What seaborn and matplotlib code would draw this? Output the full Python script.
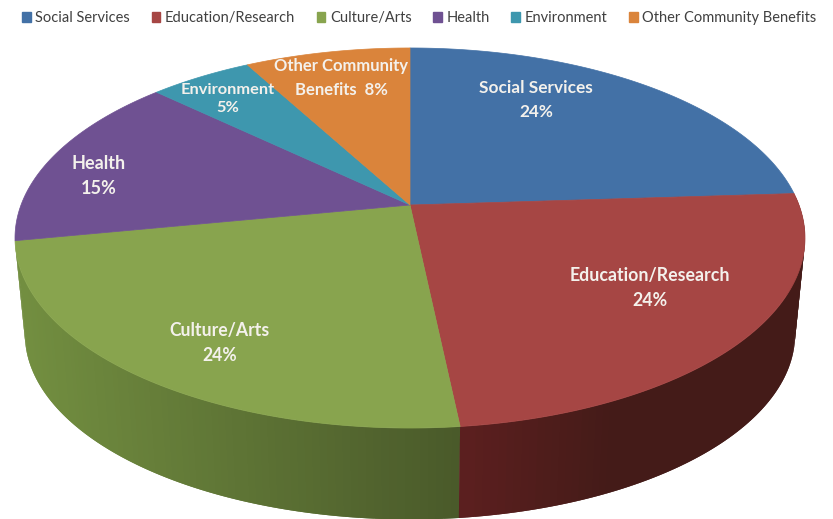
import numpy as np
import matplotlib
matplotlib.use('Agg')
import matplotlib.pyplot as plt
from matplotlib.patches import Polygon
from matplotlib.colors import to_rgb
import seaborn as sns

# data
categories = ['Social Services', 'Education/Research', 'Culture/Arts',
              'Health', 'Environment', 'Other Community Benefits']
shares = [24, 24.3, 23.7, 15, 5, 8]
slice_colors = ['#4371A6', '#A64644', '#88A44E', '#6F5192', '#3E97AE', '#DA843B']
slice_labels = ['Social Services\n24%', 'Education/Research\n24%', 'Culture/Arts\n24%',
                'Health\n15%', 'Environment\n5%', 'Other Community\nBenefits  8%']

sns.set_theme(style='white')
plt.rcParams['font.family'] = ['Lato', 'DejaVu Sans']
palette = sns.color_palette(slice_colors)


# tilt of the pie: unit circle -> picture pixels
def top_face(theta):
    u, v = np.cos(np.radians(theta)), np.sin(np.radians(theta))
    w = 1 + 0.1737 * v
    return 410 + 389 * u / w, 205 - 184.3 * v / w


def bottom_face(theta):
    x, y = top_face(theta)
    return 410 + 0.975 * (x - 410), 205 + 97 + 0.975 * (y - 205)


def side_color(name, x):
    # side walls get darker toward the middle, the red one stays dark
    if name == 'Culture/Arts':
        t = np.clip((x - 25) / 435, 0, 1)
        return np.array(to_rgb('#728E40')) * (1 - t) + np.array(to_rgb('#4A5A2A')) * t
    t = np.clip((x - 460) / 150, 0, 1)
    return np.array(to_rgb('#5C1F1F')) * (1 - t) + np.array(to_rgb('#441B18')) * t


fig, ax = plt.subplots(figsize=(8.33, 5.19), dpi=100)
ax.set_position([0, 0, 1, 1])

wedges, _ = ax.pie(shares, colors=palette, startangle=90, counterclock=False)
angles = [(w.theta1, w.theta2) for w in wedges]
for w in wedges:
    w.set_visible(False)

ax.set_aspect('auto')
ax.set_xlim(0, 833)
ax.set_ylim(519, 0)
ax.axis('off')

# side wall first, the two front slices only
# each strip runs under the next one so no seams show
for i in [2, 1]:
    t1, t2 = angles[i]
    edges = np.linspace(t1, t2, 90)
    step = edges[1] - edges[0]
    if i == 1:
        edges = edges[::-1]
        step = -step
    for a in edges[:-1]:
        b = a + step
        c = b + step if b + step <= t2 and b + step >= t1 else b
        xa, ya = top_face(a)
        xb, yb = top_face(c)
        xc, yc = bottom_face(c)
        xd, yd = bottom_face(a)
        col = side_color(categories[i], (xa + xb) / 2)
        ax.add_patch(Polygon([(xa, ya), (xb, yb), (xc, yc), (xd, yd)], closed=True,
                             facecolor=col, edgecolor='none', lw=0, zorder=1))

# top face
for (t1, t2), col in zip(angles, palette):
    th = np.linspace(t1, t2, 200)
    xs, ys = top_face(th)
    pts = [(410, 205)] + list(zip(xs, ys))
    ax.add_patch(Polygon(pts, closed=True, facecolor=col, edgecolor=col, lw=0.5, zorder=2))

# slice labels
label_x = [536, 650, 220, 99, 228, 341]
label_y = [100, 288, 343, 176, 99, 78]
label_size = [12.4, 12.8, 12.7, 13, 11.8, 12]
label_gap = [1.6, 1.6, 1.6, 1.6, 1.4, 1.65]
for name, x, y, size, gap in zip(slice_labels, label_x, label_y, label_size, label_gap):
    ax.text(x, y, name, ha='center', va='center', color='#F4F1EC', fontsize=size,
            fontweight='bold', linespacing=gap, zorder=3)

# legend on top
handles = [plt.Rectangle((0, 0), 1, 1, color=c) for c in palette]
ax.legend(handles, categories, ncol=6, loc='upper left', bbox_to_anchor=(0.0168, 0.994),
          frameon=False, fontsize=10.5, handlelength=0.6, handleheight=0.7,
          handletextpad=0.3, columnspacing=1.49, labelcolor='#404040', borderaxespad=0.35,
          borderpad=0.2)

fig.savefig('out.png', dpi=100)
